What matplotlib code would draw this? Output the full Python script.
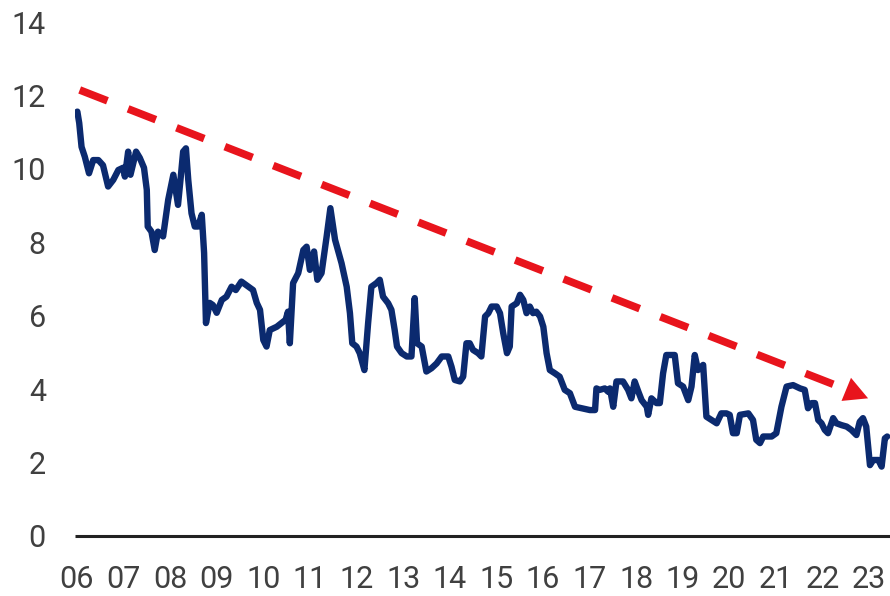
import matplotlib
matplotlib.use("Agg")
import matplotlib.pyplot as plt

# Data (decimal years, values)
years = [2006.01, 2006.05, 2006.10, 2006.17, 2006.26, 2006.35, 2006.46, 2006.56, 2006.67, 2006.78,
         2006.89, 2006.99, 2007.03, 2007.10, 2007.15, 2007.21, 2007.27, 2007.35, 2007.44, 2007.50,
         2007.52, 2007.60, 2007.67, 2007.74, 2007.85, 2007.96, 2008.07, 2008.17, 2008.23, 2008.28,
         2008.34, 2008.39, 2008.46, 2008.53, 2008.60, 2008.68, 2008.73, 2008.77, 2008.85, 2008.92,
         2009.00, 2009.11, 2009.21, 2009.32, 2009.41, 2009.53, 2009.68, 2009.78, 2009.86, 2009.93,
         2010.00, 2010.07, 2010.14, 2010.29, 2010.39, 2010.48, 2010.53, 2010.57, 2010.64, 2010.75,
         2010.86, 2010.93, 2011.00, 2011.09, 2011.16, 2011.25, 2011.36, 2011.44, 2011.54, 2011.68,
         2011.79, 2011.86, 2011.91, 2012.00, 2012.07, 2012.17, 2012.25, 2012.32, 2012.43, 2012.50,
         2012.57, 2012.68, 2012.75, 2012.82, 2012.87, 2012.97, 2013.08, 2013.18, 2013.25, 2013.30,
         2013.40, 2013.50, 2013.61, 2013.72, 2013.83, 2013.97, 2014.04, 2014.11, 2014.22, 2014.29,
         2014.36, 2014.43, 2014.50, 2014.61, 2014.68, 2014.76, 2014.83, 2014.90, 2015.01, 2015.08,
         2015.15, 2015.23, 2015.29, 2015.33, 2015.44, 2015.51, 2015.58, 2015.65, 2015.72, 2015.79,
         2015.86, 2015.94, 2016.01, 2016.08, 2016.15, 2016.26, 2016.36, 2016.47, 2016.58, 2016.69,
         2016.83, 2017.01, 2017.12, 2017.15, 2017.22, 2017.33, 2017.40, 2017.44, 2017.51, 2017.58,
         2017.72, 2017.83, 2017.90, 2017.97, 2018.05, 2018.12, 2018.23, 2018.26, 2018.33, 2018.44,
         2018.51, 2018.58, 2018.65, 2018.83, 2018.90, 2019.01, 2019.12, 2019.19, 2019.26, 2019.33,
         2019.44, 2019.51, 2019.62, 2019.73, 2019.83, 2019.94, 2020.01, 2020.08, 2020.16, 2020.23,
         2020.41, 2020.51, 2020.58, 2020.66, 2020.73, 2020.91, 2021.01, 2021.12, 2021.23, 2021.37,
         2021.52, 2021.62, 2021.69, 2021.77, 2021.84, 2021.91, 2021.98, 2022.05, 2022.12, 2022.23,
         2022.30, 2022.41, 2022.52, 2022.62, 2022.73, 2022.80, 2022.87, 2022.94, 2023.02, 2023.09,
         2023.20, 2023.27, 2023.34, 2023.39]
values = [11.56, 11.25, 10.60, 10.33, 9.88, 10.24, 10.24, 10.10, 9.52, 9.70,
          9.97, 10.03, 9.79, 10.47, 9.84, 10.16, 10.47, 10.30, 10.03, 9.43,
          8.43, 8.29, 7.79, 8.29, 8.16, 9.16, 9.84, 9.02, 9.79, 10.47,
          10.56, 9.70, 8.79, 8.43, 8.43, 8.75, 7.71, 5.80, 6.35, 6.29,
          6.08, 6.43, 6.52, 6.79, 6.70, 6.93, 6.79, 6.70, 6.35, 6.16,
          5.34, 5.16, 5.61, 5.70, 5.80, 5.89, 6.11, 5.25, 6.89, 7.16,
          7.79, 7.88, 7.25, 7.75, 6.98, 7.16, 8.16, 8.93, 8.07, 7.43,
          6.79, 6.07, 5.25, 5.16, 4.98, 4.52, 5.80, 6.79, 6.89, 6.98,
          6.52, 6.34, 6.16, 5.61, 5.16, 4.98, 4.89, 4.89, 6.48, 5.25,
          5.16, 4.48, 4.57, 4.70, 4.89, 4.89, 4.61, 4.25, 4.21, 4.34,
          5.25, 5.25, 5.07, 4.98, 4.89, 5.98, 6.07, 6.25, 6.25, 6.07,
          5.52, 4.98, 5.16, 6.25, 6.34, 6.57, 6.43, 6.07, 6.25, 6.07,
          6.11, 5.98, 5.70, 4.98, 4.52, 4.43, 4.34, 3.98, 3.89, 3.52,
          3.48, 3.43, 3.43, 4.02, 3.98, 4.02, 3.93, 4.02, 3.52, 4.21,
          4.21, 3.98, 3.75, 4.21, 3.93, 3.70, 3.52, 3.30, 3.75, 3.62,
          3.62, 4.43, 4.93, 4.93, 4.16, 4.07, 3.70, 4.07, 4.93, 4.52,
          4.66, 3.25, 3.16, 3.07, 3.34, 3.34, 3.30, 2.80, 2.80, 3.30,
          3.34, 3.16, 2.62, 2.53, 2.71, 2.71, 2.80, 3.52, 4.07, 4.11,
          4.02, 3.98, 3.48, 3.62, 3.62, 3.16, 3.07, 2.89, 2.80, 3.21,
          3.07, 3.02, 2.98, 2.89, 2.75, 3.11, 3.21, 2.98, 1.93, 2.07,
          2.07, 1.89, 2.66, 2.71]

tick_years = list(range(2006, 2024))
tick_labels = ["06", "07", "08", "09", "10", "11", "12", "13", "14", "15",
               "16", "17", "18", "19", "20", "21", "22", "23"]
y_ticks = [0, 2, 4, 6, 8, 10, 12, 14]

# Trend arrow (annotation)
trend_start = (2006.06, 12.15)
trend_head_base = (2022.50, 4.00)
trend_tip = (2022.98, 3.75)

navy = "#0b2a6f"
red = "#e8141c"
text_col = "#404040"
font = ["Roboto", "DejaVu Sans"]

fig = plt.figure(figsize=(8.9, 5.96), dpi=100)
ax = fig.add_axes([0.0843, 0.1007, 0.9157, 0.8623])

ax.plot(years, values, color=navy, lw=4.6, solid_joinstyle="round", solid_capstyle="round", zorder=3)

ax.plot([trend_start[0], trend_head_base[0]], [trend_start[1], trend_head_base[1]],
        color=red, lw=5.5, linestyle=(0, (3.9, 2.9)), dash_capstyle="butt", zorder=4)
ax.annotate("", xy=trend_tip, xytext=trend_head_base,
            arrowprops=dict(arrowstyle="-|>,head_length=0.85,head_width=0.45",
                            color=red, lw=0, shrinkA=0, shrinkB=0, mutation_scale=20),
            zorder=4)

ax.set_xlim(2005.96, 2023.45)
ax.set_ylim(0, 14)
ax.set_xticks(tick_years)
ax.set_xticklabels(tick_labels)
ax.set_yticks(y_ticks)
ax.set_yticklabels([str(v) for v in y_ticks])

for s in ["top", "right", "left"]:
    ax.spines[s].set_visible(False)
ax.spines["bottom"].set_color("#222222")
ax.spines["bottom"].set_linewidth(2.2)
ax.spines["bottom"].set_capstyle("butt")

ax.tick_params(axis="x", length=0, pad=21, labelsize=22, labelcolor=text_col)
ax.tick_params(axis="y", length=0, pad=21, labelsize=22, labelcolor=text_col)
for lab in ax.get_xticklabels() + ax.get_yticklabels():
    lab.set_family(font)
    lab.set_fontweight("normal")

fig.savefig("out.png", dpi=100)
